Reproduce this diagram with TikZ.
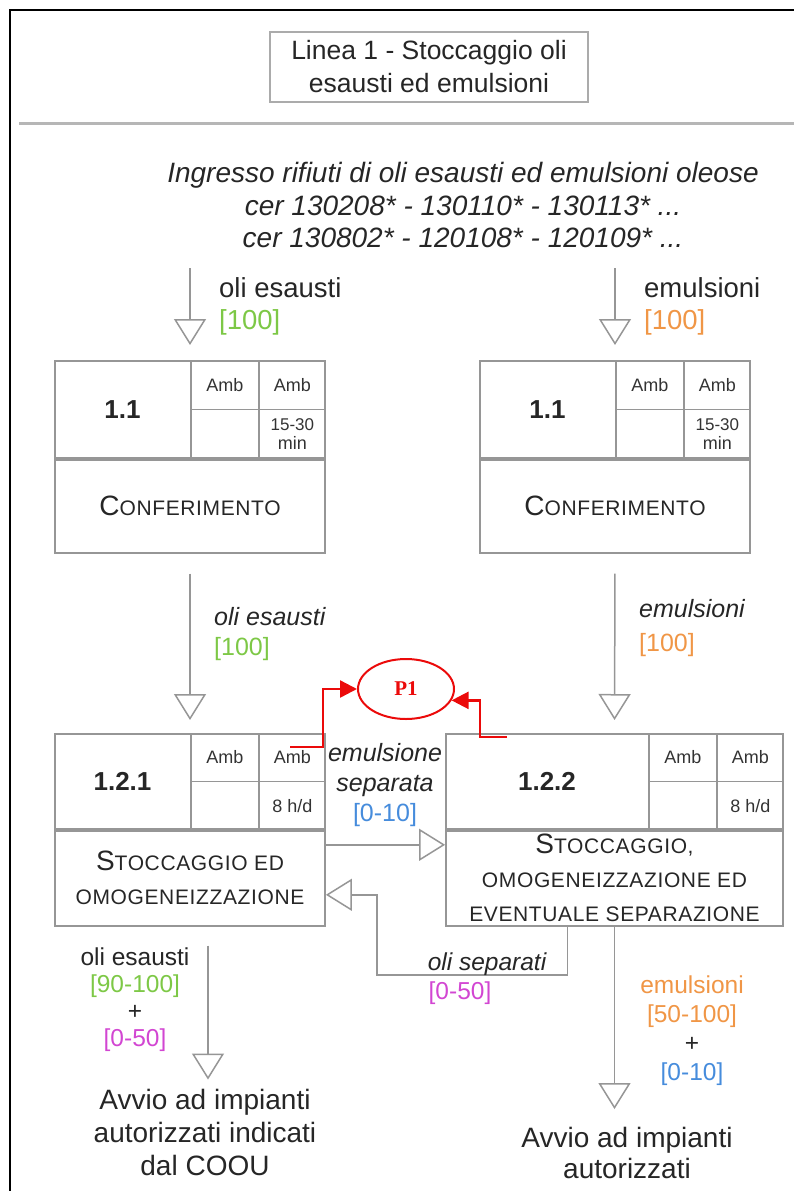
\documentclass[tikz,border=0pt]{standalone}
\usepackage{fontspec}
\setmainfont{Liberation Sans}
\newfontfamily\techfont[LetterSpace=3]{Liberation Sans}
\newfontfamily\serfont{Liberation Serif}
\usetikzlibrary{arrows.meta}
\usetikzlibrary{calc}
\usetikzlibrary{shapes.geometric}
\definecolor{lgray}{RGB}{150,150,150}
\definecolor{mgreen}{RGB}{125,200,70}
\definecolor{morange}{RGB}{240,150,70}
\definecolor{mblue}{RGB}{70,140,220}
\definecolor{mpink}{RGB}{210,70,210}
\definecolor{mred}{RGB}{235,10,10}
\tikzset{flow/.style = {draw=lgray, line width=1.5pt,
                        -{Triangle[length=26pt, width=32pt, fill=white]}}}
\tikzset{plink/.style = {draw=mred, line width=2.4pt, -{Triangle[length=17pt, width=17pt]}}}
\tikzset{cellbox/.style = {draw=lgray, line width=1.8pt, inner sep=0, text=black!85}}
\tikzset{cellline/.style = {draw=lgray, line width=1.8pt}}
\tikzset{amb/.style = {font=\fontsize{18}{19}\selectfont, text=black!80, align=center}}
\tikzset{lbl/.style = {align=center, inner sep=0, text=black!85}}
\newcommand{\bigc}[1]{{\fontsize{28}{34}\selectfont #1}}
% process block: name, top centre, width, head height, body height, number, time, title
\newcommand{\procbox}[8]{%
  \node[cellbox, minimum width=#3, minimum height=#4, anchor=north] (#1) at #2 {};
  \node[cellbox, minimum width=#3, minimum height=#5, anchor=north, align=center,
        font=\techfont\fontsize{21}{34}\selectfont] (#1b) at (#1.south) {#8};
  \draw[cellline] ([xshift=-135pt]#1.north east) -- ([xshift=-135pt]#1.south east);
  \draw[cellline] ([xshift=-67pt]#1.north east) -- ([xshift=-67pt]#1.south east);
  \draw[cellline] ([xshift=-135pt]#1.east) -- (#1.east);
  \node[font=\fontsize{26}{30}\selectfont\bfseries, text=black!85]
    at ($(#1.west)!0.5!([xshift=-135pt]#1.east)$) {#6};
  \node[amb] at ($([xshift=-101pt]#1.north east)!0.25!([xshift=-101pt]#1.south east)$) {Amb};
  \node[amb] at ($([xshift=-33.5pt]#1.north east)!0.25!([xshift=-33.5pt]#1.south east)$) {Amb};
  \node[amb] at ($([xshift=-33.5pt]#1.north east)!0.75!([xshift=-33.5pt]#1.south east)$) {#7};
}

\begin{document}
\begin{tikzpicture}[x=1pt, y=-1pt]
    \useasboundingbox (0,0) rectangle (794,1191);

    \draw [line width=2pt] (10,1191) -- (10,10) -- (794,10);
    \draw [lgray!70, line width=3pt] (19,123) -- (794,123);

    \node [draw=lgray!80, line width=1.5pt, minimum width=318pt, minimum height=70pt,
           align=center, font=\fontsize{26.5}{33}\selectfont, text=black!85] (title)
          at (429,67) {Linea 1 - Stoccaggio oli\\esausti ed emulsioni};

    \node [lbl, font=\fontsize{28}{32.5}\selectfont\itshape] (intro) at (463,205)
          {Ingresso rifiuti di oli esausti ed emulsioni oleose\\
           cer 130208* - 130110* - 130113* ...\\
           cer 130802* - 120108* - 120109* ...};

    % blocks
    \procbox{hL}{(190,360)}{270pt}{97pt}{93pt}{1.1}{\fontsize{17}{19}\selectfont 15-30\\min}{\bigc{C}ONFERIMENTO}
    \procbox{hR}{(615,360)}{270pt}{97pt}{93pt}{1.1}{\fontsize{17}{19}\selectfont 15-30\\min}{\bigc{C}ONFERIMENTO}
    \procbox{hA}{(190,733)}{270pt}{95pt}{95pt}{1.2.1}{8 h/d}{\bigc{S}TOCCAGGIO ED\\OMOGENEIZZAZIONE}
    \procbox{hB}{(614.5,733)}{337pt}{95pt}{95pt}{1.2.2}{8 h/d}{\bigc{S}TOCCAGGIO,\\OMOGENEIZZAZIONE ED\\EVENTUALE SEPARAZIONE}

    % inputs
    \coordinate (inL) at (190,268);
    \coordinate (inR) at (615,268);
    \draw [flow, shorten >=15pt] (inL) -- (hL.north);
    \draw [flow, shorten >=15pt] (inR) -- (hR.north);
    \node [lbl, anchor=west, align=left, font=\fontsize{27.5}{32}\selectfont] (lInL) at (219,306)
          {oli esausti\\\textcolor{mgreen}{[100]}};
    \node [lbl, anchor=west, align=left, font=\fontsize{27.5}{32}\selectfont] (lInR) at (644,306)
          {emulsioni\\\textcolor{morange}{[100]}};

    % to storage
    \draw [flow, shorten <=20pt, shorten >=13pt] (hLb.south) -- (hA.north);
    \draw [flow, shorten <=20pt, shorten >=13pt] (hRb.south) -- (hB.north);
    \node [lbl, anchor=west, align=left, font=\fontsize{25}{30}\selectfont] (lMidL) at (214,634)
          {\textit{oli esausti}\\\textcolor{mgreen}{[100]}};
    \node [lbl, anchor=west, align=left, font=\fontsize{25}{34}\selectfont] (lMidR) at (639,628)
          {\textit{emulsioni}\\\textcolor{morange}{[100]}};

    % exchange between 1.2.1 and 1.2.2
    \draw [flow] ($(hAb.north east)+(0,15)$) -- ($(hBb.north west)+(0,15)$);
    \node [lbl, font=\fontsize{25}{30}\selectfont] (lSep) at (385,785)
          {\textit{emulsione}\\\textit{separata}\\\textcolor{mblue}{[0-10]}};
    \draw [flow] ([xshift=-47pt]hBb.south) |- (377,975) |- ($(hAb.north east)+(0,65)$);
    \node [lbl, font=\fontsize{24.5}{30}\selectfont\itshape] (lOli) at (487,964) {oli separati};
    \node [lbl, font=\fontsize{24.5}{30}\selectfont, text=mpink] (lOliV) at (460,993) {[0-50]};

    % P1
    \node [draw=mred, line width=2pt, ellipse, minimum width=96pt, minimum height=60pt,
           inner sep=0, text=mred, font=\serfont\bfseries\fontsize{21}{24}\selectfont] (P1)
          at (406,689) {P1};
    \coordinate (pL) at (290,747);
    \coordinate (pR) at (507,737);
    \draw [plink] (pL) -- (323,747) |- (P1.west);
    \draw [plink] (pR) -- (480,737) |- (P1.-14);

    % outputs
    \node [lbl, font=\fontsize{28}{33}\selectfont] (avL) at (205,1132)
          {Avvio ad impianti\\autorizzati indicati\\dal COOU};
    \node [lbl, font=\fontsize{28}{31}\selectfont] (avR) at (627,1153)
          {Avvio ad impianti\\autorizzati};
    \draw [flow, shorten <=19pt, shorten >=9pt] ([xshift=18pt]hAb.south) -- ([xshift=18pt]hAb.south |- avL.north);
    \draw [flow, shorten >=18pt] (hBb.south) -- (hBb.south |- avR.north);
    \node [lbl, font=\fontsize{24.5}{27}\selectfont] (lOutL) at (135,1000)
          {oli esausti\\\textcolor{mgreen}{[90-100]}\\+\\\textcolor{mpink}{[0-50]}};
    \node [lbl, font=\fontsize{24.5}{29}\selectfont] (lOutR) at (692,1031)
          {\textcolor{morange}{emulsioni}\\\textcolor{morange}{[50-100]}\\+\\\textcolor{mblue}{[0-10]}};
\end{tikzpicture}
\end{document}
